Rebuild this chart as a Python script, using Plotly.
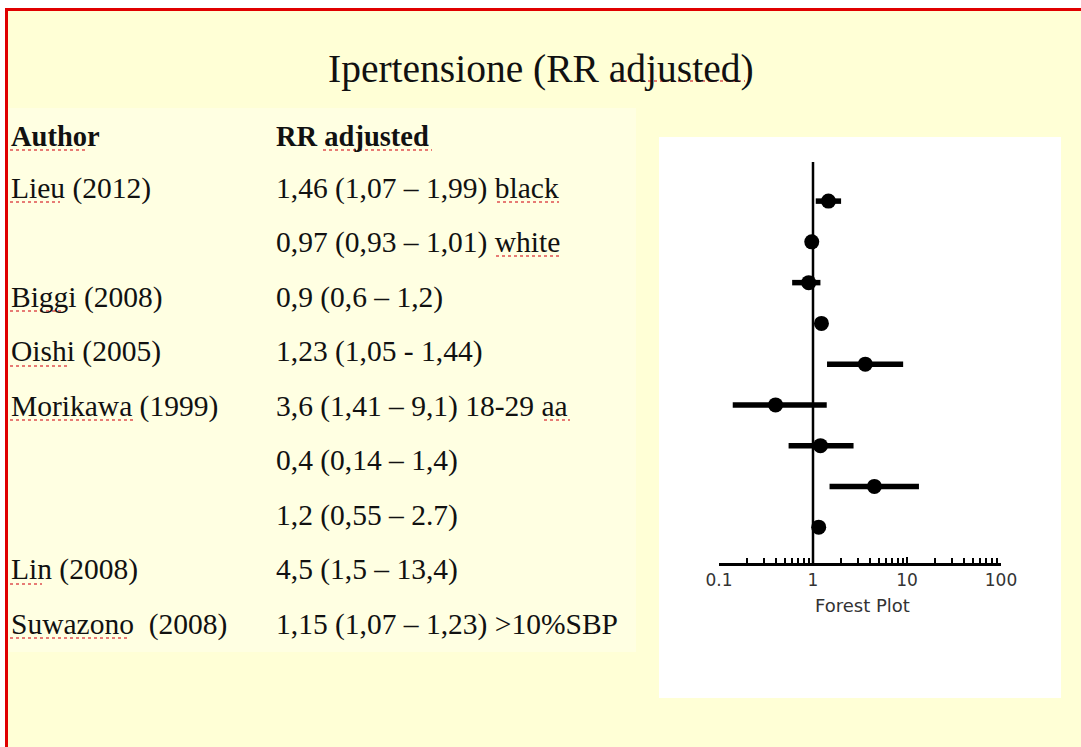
import plotly.graph_objects as go

# ---- data ----
authors = ["Lieu (2012)", "", "Biggi (2008)", "Oishi (2005)", "Morikawa (1999)", "", "", "Lin (2008)", "Suwazono  (2008)"]
rr_labels = ["1,46 (1,07 – 1,99) black", "0,97 (0,93 – 1,01) white", "0,9 (0,6 – 1,2)",
             "1,23 (1,05 - 1,44)", "3,6 (1,41 – 9,1) 18-29 aa", "0,4 (0,14 – 1,4)",
             "1,2 (0,55 – 2.7)", "4,5 (1,5 – 13,4)", "1,15 (1,07 – 1,23) >10%SBP"]
rr = [1.46, 0.97, 0.9, 1.23, 3.6, 0.4, 1.2, 4.5, 1.15]
ci_low = [1.07, 0.93, 0.6, 1.05, 1.41, 0.14, 0.55, 1.5, 1.07]
ci_high = [1.99, 1.01, 1.2, 1.44, 9.1, 1.4, 2.7, 13.4, 1.23]
rows = list(range(len(rr)))
tick_vals = [0.1, 1, 10, 100]
tick_text = ["0.1", "1", "10", "100"]
minor_vals = [m * d for d in [0.1, 1, 10] for m in range(2, 10)]

W, H = 1081, 747
def px(x): return x / W
def py(y): return 1 - y / H

BG = "#FFFFD6"
fig = go.Figure()

# CI lines
xs, ys = [], []
for r, lo, hi in zip(rows, ci_low, ci_high):
    xs += [lo, hi, None]
    ys += [r, r, None]
fig.add_trace(go.Scatter(x=xs, y=ys, mode="lines", line=dict(color="black", width=5.5),
                         hoverinfo="skip", showlegend=False))
fig.add_trace(go.Scatter(x=rr, y=rows, mode="markers",
                         marker=dict(color="black", size=15, symbol="circle"),
                         showlegend=False))

shapes = []
shapes.append(dict(type="rect", xref="paper", yref="paper", x0=px(5), x1=1, y0=0, y1=py(8),
                   fillcolor=BG, line_width=0, layer="below"))
shapes.append(dict(type="rect", xref="paper", yref="paper", x0=px(8), x1=px(636), y0=py(652), y1=py(108),
                   fillcolor="#FFFFE2", line_width=0, layer="below"))
shapes.append(dict(type="rect", xref="paper", yref="paper", x0=px(659), x1=px(1061), y0=py(698), y1=py(137),
                   fillcolor="white", line_width=0, layer="below"))
shapes.append(dict(type="rect", xref="paper", yref="paper", x0=px(5), x1=1, y0=py(11), y1=py(8),
                   fillcolor="#E00000", line_width=0))
shapes.append(dict(type="rect", xref="paper", yref="paper", x0=px(5), x1=px(8), y0=0, y1=py(8),
                   fillcolor="#E00000", line_width=0))
shapes.append(dict(type="line", xref="x", yref="paper", x0=1, x1=1, y0=py(563), y1=py(162),
                   line=dict(color="black", width=2.5)))

# spell-check style red underlines (decoration)
underlines = [(612, 745, 81), (10, 86, 150), (323, 432, 150),
              (10, 60, 202), (497, 559, 202), (496, 561, 256),
              (10, 62, 311), (10, 68, 366), (10, 133, 420), (544, 570, 420),
              (10, 42, 584), (10, 128, 638)]
for x0, x1, yy in underlines:
    shapes.append(dict(type="line", xref="paper", yref="paper", x0=px(x0), x1=px(x1), y0=py(yy), y1=py(yy),
                       line=dict(color="#E05050", width=1.5, dash="dot")))
fig.update_layout(shapes=shapes)

ann = []
SERIF = "Liberation Serif, Times New Roman, serif"
FS = 29.5
ann.append(dict(text="Ipertensione (RR adjusted)", x=px(541), y=py(69), xref="paper", yref="paper",
                showarrow=False, xanchor="center", yanchor="middle",
                font=dict(family=SERIF, size=39.5, color="#111")))
ann.append(dict(text="<b>Author</b>", x=px(9), y=py(136), xref="paper", yref="paper",
                showarrow=False, xanchor="left", yanchor="middle",
                font=dict(family=SERIF, size=28.5, color="#111")))
ann.append(dict(text="<b>RR adjusted</b>", x=px(274), y=py(136), xref="paper", yref="paper",
                showarrow=False, xanchor="left", yanchor="middle",
                font=dict(family=SERIF, size=28.5, color="#111")))
row_y0, row_dy = 188, 54.5
for i, (a, t) in enumerate(zip(authors, rr_labels)):
    yy = row_y0 + i * row_dy
    if a:
        ann.append(dict(text=a, x=px(9), y=py(yy), xref="paper", yref="paper",
                        showarrow=False, xanchor="left", yanchor="middle",
                        font=dict(family=SERIF, size=FS, color="#111")))
    ann.append(dict(text=t, x=px(274), y=py(yy), xref="paper", yref="paper",
                    showarrow=False, xanchor="left", yanchor="middle",
                    font=dict(family=SERIF, size=FS, color="#111")))
ann.append(dict(text="Forest Plot", x=px(862), y=py(605), xref="paper", yref="paper",
                showarrow=False, xanchor="center", yanchor="middle",
                font=dict(family="DejaVu Sans, Verdana, sans-serif", size=18, color="#333")))
fig.update_layout(annotations=ann)

fig.update_layout(
    width=W, height=H, margin=dict(l=0, r=0, t=0, b=0, pad=0, autoexpand=False),
    paper_bgcolor="white", plot_bgcolor="rgba(0,0,0,0)",
    xaxis=dict(type="log", domain=[px(719), px(1001)], range=[-1, 2], automargin=False,
               showgrid=False, zeroline=False, showline=True, linecolor="black", linewidth=2.5,
               ticks="inside", ticklen=6, tickwidth=2, tickcolor="black",
               tickmode="array", tickvals=tick_vals, ticktext=tick_text, ticklabelstandoff=0,
               tickfont=dict(family="DejaVu Sans, Verdana, sans-serif", size=17, color="#333"),
               minor=dict(ticks="inside", ticklen=5, tickwidth=1.5, tickcolor="black",
                          tickmode="array", tickvals=minor_vals, showgrid=False),
               fixedrange=True),
    yaxis=dict(domain=[py(563), py(162)], range=[8.88, -0.96], visible=False, fixedrange=True,
               automargin=False),
)

fig.write_html("out.html", config={"responsive": False, "displayModeBar": False},
               post_script="document.body.style.margin='0';document.body.style.overflow='hidden';")
